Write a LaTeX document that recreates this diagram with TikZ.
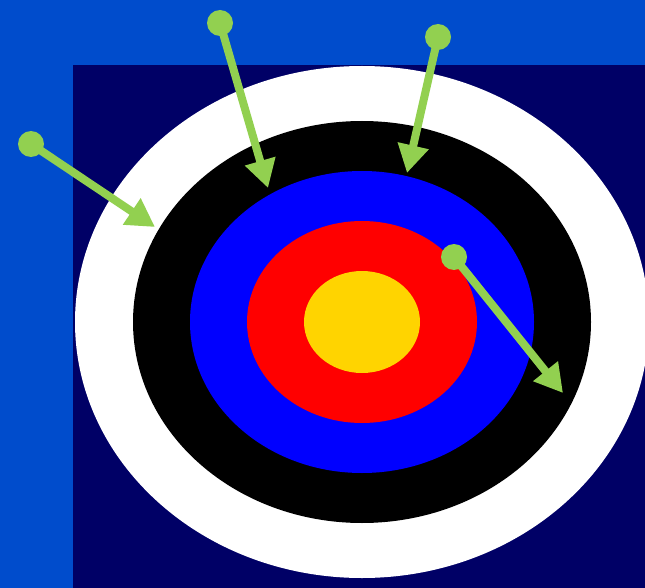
\documentclass[tikz,border=0pt]{standalone}
\usetikzlibrary{arrows.meta}
\definecolor{skyblue}{HTML}{004CCC}
\definecolor{navy}{HTML}{000066}
\definecolor{ringblue}{HTML}{0000FF}
\definecolor{ringred}{HTML}{FF0000}
\definecolor{ringgold}{HTML}{FFD400}
\definecolor{shaft}{HTML}{92D050}
\tikzset{
  ring/.style={draw=none},
  nock/.style={circle, fill=shaft, draw=none, minimum size=26pt, inner sep=0pt},
  dart/.style={draw=shaft, line width=8pt, -{Triangle[length=28pt,width=30pt]}}
}
\begin{document}
\begin{tikzpicture}[x=1pt, y=-1pt]
  \useasboundingbox (0,0) rectangle (645,588);
  \fill[skyblue] (0,0) rectangle (645,588);
  \fill[navy] (73,65) rectangle (645,588);
  % target rings
  \fill[ring, white] (362,322) ellipse [x radius=287, y radius=256];
  \fill[ring, black] (362,322) ellipse [x radius=229, y radius=201];
  \fill[ring, ringblue] (362,322) ellipse [x radius=172, y radius=151];
  \fill[ring, ringred] (362,322) ellipse [x radius=115, y radius=101];
  \fill[ring, ringgold] (362,322) ellipse [x radius=58, y radius=51];
  % darts
  \coordinate (h1) at (155,227);
  \coordinate (h2) at (268,188);
  \coordinate (h3) at (407,173);
  \coordinate (h4) at (563,393);
  \draw[dart] (31,144) -- (h1);
  \draw[dart] (220,23) -- (h2);
  \draw[dart] (438,37) -- (h3);
  \draw[dart] (454,257) -- (h4);
  \node[nock] (n1) at (31,144) {};
  \node[nock] (n2) at (220,23) {};
  \node[nock] (n3) at (438,37) {};
  \node[nock] (n4) at (454,257) {};
\end{tikzpicture}
\end{document}
